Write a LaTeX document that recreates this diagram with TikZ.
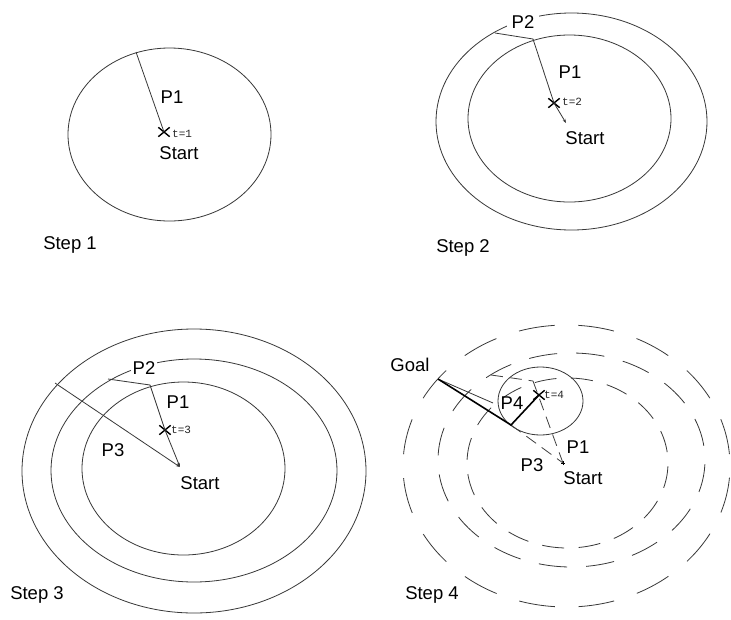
\documentclass[tikz,border=0pt]{standalone}
\usepackage{fontspec}
\setmainfont{Liberation Sans}
\newfontfamily\tickfont{Liberation Mono}
\usetikzlibrary{shapes.misc,arrows.meta}
\begin{document}
\begin{tikzpicture}[x=1pt,y=-1pt,
  ring/.style={draw=black!78, line width=0.8pt},
  seg/.style={draw=black!78, line width=0.8pt},
  bold seg/.style={draw=black, line width=1.6pt},
  old seg/.style={draw=black!75, line width=0.8pt, dash pattern=on 12pt off 7pt},
  tip/.style={-{Stealth[length=4pt,width=3pt]}},
  lbl/.style={font=\fontsize{18.5}{20}\selectfont, inner sep=0pt},
  tlbl/.style={font=\tickfont\fontsize{11}{12}\selectfont, inner sep=0pt, anchor=west, text=black!85},
  xmark/.style={cross out, draw=black, line width=1.4pt, minimum width=10pt, minimum height=8pt, inner sep=0pt},
]
\fill[white] (0,0) rectangle (731,619);
\useasboundingbox (0,0) rectangle (731,619);

% ---------- Step 1 ----------
\draw[ring] (169.5,134.5) ellipse [x radius=101.5pt, y radius=86.5pt];
\coordinate (a1) at (136,52);
\node[xmark] (x1) at (164,132) {};
\draw[seg] (a1) -- (x1.center);
\node[lbl] (p1a) at (172,97) {P1};
\node[tlbl] (t1) at (172,134) {t=1};
\node[lbl] (st1) at (179,153) {Start};
\node[lbl] (step1) at (70,245) {Step 1};

% ---------- Step 2 ----------
\draw[ring] (571.5,121.5) ellipse [x radius=135.5pt, y radius=108.5pt];
\draw[ring] (569.5,118.5) ellipse [x radius=101.5pt, y radius=83.5pt];
\node[lbl, fill=white, inner xsep=5pt, inner ysep=1pt] (p2b) at (523,22) {P2};
\coordinate (b2) at (495,33);
\coordinate (b1) at (533,39);
\coordinate (s2) at (566,123);
\node[xmark] (x2) at (554,103) {};
\draw[seg] (b2) -- (b1) -- (x2.center);
\draw[seg, tip] (x2.center) -- (s2);
\node[lbl] (p1b) at (570,72) {P1};
\node[tlbl] (t2) at (562,102) {t=2};
\node[lbl] (st2) at (585,138) {Start};
\node[lbl] (step2) at (463,248) {Step 2};

% ---------- Step 3 ----------
\draw[ring] (194,471) ellipse [x radius=172pt, y radius=142pt];
\draw[ring] (194,470.5) ellipse [x radius=143pt, y radius=111.5pt];
\draw[ring] (183.5,468.5) ellipse [x radius=101.5pt, y radius=86.5pt];
\node[lbl, fill=white, inner xsep=2pt, inner ysep=1pt] (p2c) at (144,368) {P2};
\coordinate (c3) at (55,383);
\coordinate (c2) at (108,379);
\coordinate (c1) at (150,385);
\coordinate (s3) at (180,467);
\node[xmark] (x3) at (165,430) {};
\draw[seg] (c2) -- (c1) -- (x3.center);
\draw[seg, tip] (x3.center) -- (s3);
\draw[seg, tip] (c3) -- (s3);
\node[lbl] (p1c) at (178,402) {P1};
\node[tlbl] (t3) at (171,430) {t=3};
\node[lbl] (p3c) at (113,450) {P3};
\node[lbl] (st3) at (200,483) {Start};
\node[lbl] (step3) at (37,595) {Step 3};

% ---------- Step 4 ----------
\draw[ring, dash pattern=on 36pt off 23.9pt, dash phase=48pt]
  (566.5,466) ellipse [x radius=163.5pt, y radius=141pt];
\draw[ring, dash pattern=on 28.4pt off 19pt, dash phase=33.2pt]
  (571.5,460) ellipse [x radius=133.5pt, y radius=107pt];
\draw[ring, dash pattern=on 22pt off 14.5pt, dash phase=25.5pt]
  (567.5,463) ellipse [x radius=100.5pt, y radius=85pt];
\draw[ring] (540.5,401) ellipse [x radius=42.5pt, y radius=34pt];

\coordinate (goal) at (438,379);
\coordinate (k) at (511,425);
\coordinate (m) at (493,403);
\coordinate (d1) at (533,381);
\coordinate (d2) at (491,375);
\coordinate (s4) at (563,463);
\node[xmark] (x4) at (539,395) {};

\draw[old seg] (d2) -- (d1);
\draw[old seg] (d1) -- (s4);
\draw[old seg] (k) -- (s4);
\draw[seg] (goal) -- (m);
\draw[bold seg] (goal) -- (k) -- (x4.center);
\draw[draw=black, line width=0.6pt] ([xshift=-2pt]s4) -- ([xshift=2pt]s4);
\draw[draw=black, line width=0.6pt] ([yshift=-2pt]s4) -- ([yshift=2pt]s4);

\node[lbl] (goallbl) at (410,365) {Goal};
\node[lbl] (p4d) at (512,403) {P4};
\node[tlbl] (t4) at (544,395) {t=4};
\node[lbl] (p1d) at (578,447) {P1};
\node[lbl] (p3d) at (532,465) {P3};
\node[lbl] (st4) at (583,478) {Start};
\node[lbl] (step4) at (432,595) {Step 4};
\end{tikzpicture}
\end{document}
